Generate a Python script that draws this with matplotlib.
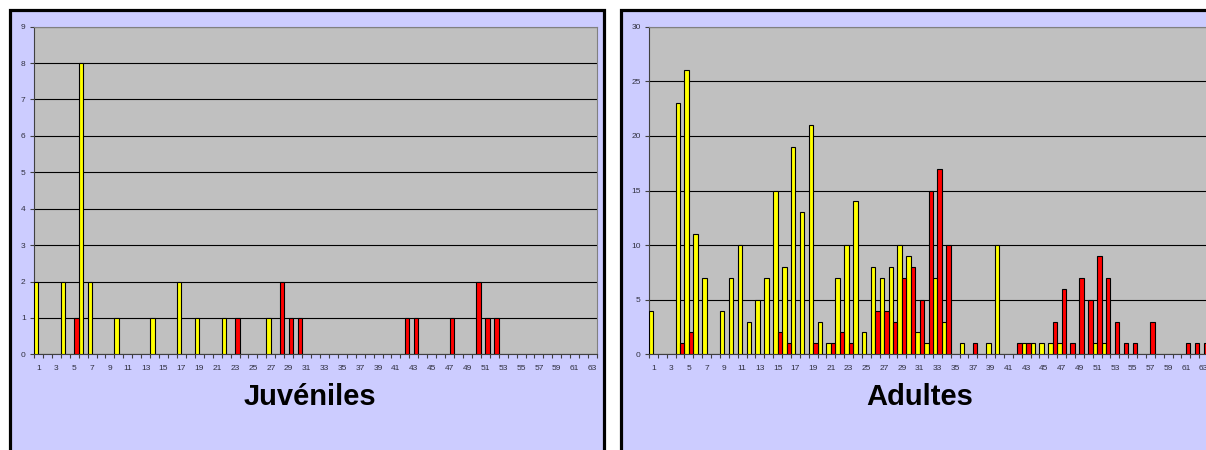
import numpy as np
import matplotlib
matplotlib.use("Agg")
import matplotlib.pyplot as plt
from matplotlib.patches import Rectangle
from matplotlib.ticker import MultipleLocator, FixedLocator

plt.rcParams['font.family'] = ['Liberation Sans', 'DejaVu Sans']

# Categories 1..63
categories = np.arange(1, 64)
tick_labels = [str(c) for c in categories[::2]]

# Juveniles
juv_yellow = [2, 0, 0, 2, 0, 8, 2, 0, 0, 1,
              0, 0, 0, 1, 0, 0, 2, 0, 1, 0,
              0, 1, 0, 0, 0, 0, 1, 0, 0, 0,
              0, 0, 0, 0, 0, 0, 0, 0, 0, 0,
              0, 0, 0, 0, 0, 0, 0, 0, 0, 0,
              0, 0, 0, 0, 0, 0, 0, 0, 0, 0,
              0, 0, 0]
juv_red = [0, 0, 0, 0, 1, 0, 0, 0, 0, 0,
           0, 0, 0, 0, 0, 0, 0, 0, 0, 0,
           0, 0, 1, 0, 0, 0, 0, 2, 1, 1,
           0, 0, 0, 0, 0, 0, 0, 0, 0, 0,
           0, 1, 1, 0, 0, 0, 1, 0, 0, 2,
           1, 1, 0, 0, 0, 0, 0, 0, 0, 0,
           0, 0, 0]

# Adultes
ad_yellow = [4, 0, 0, 23, 26, 11, 7, 0, 4, 7,
             10, 3, 5, 7, 15, 8, 19, 13, 21, 3,
             1, 7, 10, 14, 2, 8, 7, 8, 10, 9,
             2, 1, 7, 3, 0, 1, 0, 0, 1, 10,
             0, 0, 1, 1, 1, 1, 1, 0, 0, 0,
             1, 1, 0, 0, 0, 0, 0, 0, 0, 0,
             0, 0, 0]
ad_red = [0, 0, 0, 1, 2, 0, 0, 0, 0, 0,
          0, 0, 0, 0, 2, 1, 0, 0, 1, 0,
          1, 2, 1, 0, 0, 4, 4, 3, 7, 8,
          5, 15, 17, 10, 0, 0, 1, 0, 0, 0,
          0, 1, 1, 0, 0, 3, 6, 1, 7, 5,
          9, 7, 3, 1, 1, 0, 3, 0, 0, 0,
          1, 1, 1]

W, H = 1206, 450
fig = plt.figure(figsize=(W / 100, H / 100), dpi=100)
fig.patch.set_facecolor('white')


def px(x0, y0, x1, y1):
    # pixel box (top-left origin) -> figure fraction
    return [x0 / W, 1 - y1 / H, (x1 - x0) / W, (y1 - y0) / H]


# panel backgrounds (right one is cut off by the image edge)
for x0, x1 in [(9.5, 604), (621, 1218)]:
    fig.add_artist(Rectangle((x0 / W, -0.1), (x1 - x0) / W, 1.1 - 10 / H,
                             transform=fig.transFigure, facecolor='#CCCCFF',
                             edgecolor='black', lw=2.3, clip_on=False, zorder=0))


def draw(box, yellow, red, ymax, ystep, title, title_x):
    ax = fig.add_axes(px(*box))
    ax.set_facecolor('#C0C0C0')
    y = np.array(yellow)
    r = np.array(red)
    my = y > 0
    mr = r > 0
    ax.bar(categories[my] - 0.25, y[my], width=0.5, color='#FFFF00',
           edgecolor='black', lw=0.8, zorder=3)
    ax.bar(categories[mr] + 0.25, r[mr], width=0.5, color='#FF0000',
           edgecolor='black', lw=0.8, zorder=3)
    ax.set_xlim(0.5, 63.5)
    ax.set_ylim(0, ymax)
    ax.yaxis.set_major_locator(MultipleLocator(ystep))
    ax.grid(axis='y', color='black', lw=0.8, zorder=1)
    ax.set_axisbelow(True)
    ax.xaxis.set_major_locator(FixedLocator(categories[::2]))
    ax.set_xticklabels(tick_labels)
    ax.xaxis.set_minor_locator(FixedLocator(np.arange(0.5, 64, 1)))
    ax.tick_params(axis='x', which='major', length=0, pad=8,
                   labelsize=6, labelcolor='#303040')
    ax.tick_params(axis='x', which='minor', length=3, color='#404040', width=0.8)
    ax.tick_params(axis='y', length=3, color='#404040', width=0.8,
                   labelsize=6, labelcolor='#303040', pad=3)
    for s in ['top', 'right']:
        ax.spines[s].set_color('#808080')
    for s in ['left', 'bottom']:
        ax.spines[s].set_color('#404040')
    fig.text(title_x / W, 1 - 405 / H, title, ha='center', va='baseline',
             fontsize=21, fontweight='bold', color='black')
    return ax


draw((34, 26.7, 597, 354.3), juv_yellow, juv_red, 9, 1, 'Juvéniles', 309.5)
draw((649, 26.7, 1208, 354.3), ad_yellow, ad_red, 30, 5, 'Adultes', 920)

fig.savefig('out.png', dpi=100)
